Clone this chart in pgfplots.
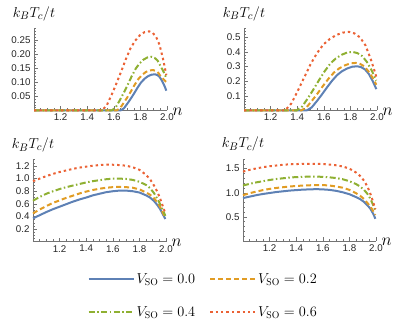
\documentclass[border=0pt]{standalone}
\usepackage{fontspec}
\setsansfont{Liberation Sans}
\usepackage{pgfplots}
\pgfplotsset{compat=1.18}

\definecolor{mblue}{HTML}{5E81B5}
\definecolor{morange}{HTML}{E19C24}
\definecolor{mgreen}{HTML}{8FB032}
\definecolor{mred}{HTML}{EB6235}

\pgfplotsset{
  mma/.style={
    scale only axis, width=133bp, height=82bp,
    anchor=south west,
    xmin=1, xmax=2, ymin=0,
    axis x line=bottom, axis y line=left,
    axis line style={-, black!55, line width=0.6bp},
    tick align=inside,
    major tick length=4bp, minor tick length=2.2bp,
    tick style={black!55, line width=0.5bp},
    xtick={1,1.2,1.4,1.6,1.8,2.0},
    xticklabels={,1.2,1.4,1.6,1.8,2.0},
    minor xtick={1.05,1.1,1.15,1.25,1.3,1.35,1.45,1.5,1.55,1.65,1.7,1.75,1.85,1.9,1.95},
    tick label style={font=\sffamily\fontsize{9.8}{10}\selectfont, text=black!85},
    clip=false,
    every axis y label/.style={at={(axis description cs:0,1)}, anchor=south, yshift=4bp, font=\fontsize{15}{16}\selectfont},
    every axis x label/.style={at={(axis description cs:1,0)}, anchor=west, xshift=2bp, yshift=-1bp, font=\fontsize{16}{16}\selectfont},
    ylabel={$k_BT_c/t$}, xlabel={$n$},
    legend image code/.code={\draw[##1] (0bp,0bp) -- (45bp,0bp);},
  },
  s0/.style={mblue, line width=2bp},
  s2/.style={morange, line width=2bp, dash pattern=on 5bp off 3bp},
  s4/.style={mgreen, line width=2bp, dash pattern=on 6bp off 2.5bp on 1.5bp off 2.5bp},
  s6/.style={mred, line width=2bp, dash pattern=on 2.4bp off 3bp},
}

\begin{document}
\begin{tikzpicture}
\useasboundingbox (0,0) rectangle (411bp,331bp);

% top left
\begin{axis}[mma, at={(34bp,220.5bp)}, ymax=0.29,
  ytick={0,0.05,0.1,0.15,0.2,0.25},
  yticklabels={,0.05,0.10,0.15,0.20,0.25},
  minor ytick={0.01,0.02,0.03,0.04,0.06,0.07,0.08,0.09,0.11,0.12,0.13,0.14,0.16,0.17,0.18,0.19,0.21,0.22,0.23,0.24,0.26,0.27,0.28,0.29}]
\addplot[s0] coordinates {(1,0) (1.65,0) (1.676,0.0077) (1.702,0.0243) (1.728,0.0422) (1.754,0.0614) (1.78,0.0819) (1.806,0.0998) (1.832,0.1126) (1.858,0.1216) (1.884,0.1267) (1.91,0.128) (1.927,0.1254) (1.944,0.119) (1.961,0.1062) (1.978,0.0901) (1.9865,0.0804) (1.995,0.07)};
\addplot[s2] coordinates {(1,0) (1.62,0) (1.6475,0.0086) (1.675,0.0272) (1.7025,0.0472) (1.73,0.0686) (1.7575,0.0915) (1.785,0.1115) (1.8125,0.1258) (1.84,0.1359) (1.8675,0.1416) (1.895,0.143) (1.915,0.1401) (1.935,0.133) (1.955,0.1187) (1.975,0.110) (1.985,0.105) (1.995,0.100)};
\addplot[s4] coordinates {(1,0) (1.585,0) (1.615,0.0114) (1.645,0.0361) (1.675,0.0627) (1.705,0.0912) (1.735,0.1216) (1.765,0.1482) (1.795,0.1672) (1.825,0.1805) (1.855,0.1881) (1.885,0.19) (1.907,0.1862) (1.929,0.1767) (1.951,0.1577) (1.973,0.1385) (1.984,0.1269) (1.995,0.115)};
\addplot[s6] coordinates {(1,0) (1.51,0) (1.5457,0.0168) (1.5814,0.0532) (1.6171,0.0924) (1.6528,0.1344) (1.6885,0.1792) (1.7242,0.2184) (1.7599,0.2464) (1.7956,0.266) (1.8313,0.2772) (1.867,0.28) (1.8926,0.2744) (1.9182,0.2604) (1.9438,0.2324) (1.9694,0.184) (1.9822,0.155) (1.995,0.125)};
\end{axis}

% top right
\begin{axis}[mma, at={(244bp,220.5bp)}, ymax=0.56,
  ytick={0,0.1,0.2,0.3,0.4,0.5},
  yticklabels={,0.1,0.2,0.3,0.4,0.5},
  minor ytick={0.02,0.04,0.06,0.08,0.12,0.14,0.16,0.18,0.22,0.24,0.26,0.28,0.32,0.34,0.36,0.38,0.42,0.44,0.46,0.48,0.52,0.54,0.56}]
\addplot[s0] coordinates {(1,0) (1.471,0) (1.5091,0.0211) (1.5472,0.0634) (1.5853,0.1087) (1.6234,0.157) (1.6615,0.2023) (1.6996,0.2416) (1.7377,0.2688) (1.7758,0.2869) (1.8139,0.299) (1.852,0.302) (1.8806,0.296) (1.9092,0.2809) (1.9378,0.2507) (1.9664,0.2035) (1.9807,0.1752) (1.995,0.146)};
\addplot[s2] coordinates {(1,0) (1.43,0) (1.4712,0.0228) (1.5124,0.0683) (1.5536,0.117) (1.5948,0.169) (1.636,0.2178) (1.6772,0.26) (1.7184,0.2893) (1.7596,0.3088) (1.8008,0.3218) (1.842,0.325) (1.8726,0.3185) (1.9032,0.3023) (1.9338,0.2698) (1.9644,0.2275) (1.9797,0.2018) (1.995,0.176)};
\addplot[s4] coordinates {(1,0) (1.396,0) (1.4381,0.028) (1.4802,0.084) (1.5223,0.144) (1.5644,0.208) (1.6065,0.268) (1.6486,0.32) (1.6907,0.356) (1.7328,0.38) (1.7749,0.396) (1.817,0.40) (1.8526,0.392) (1.8882,0.372) (1.9238,0.332) (1.9594,0.2744) (1.9772,0.2398) (1.995,0.205)};
\addplot[s6] coordinates {(1,0) (1.308,0) (1.3562,0.0483) (1.4044,0.1343) (1.4526,0.2255) (1.5008,0.3168) (1.549,0.392) (1.5972,0.4511) (1.6454,0.4887) (1.6936,0.5155) (1.7418,0.5316) (1.79,0.537) (1.831,0.5263) (1.872,0.4994) (1.913,0.4457) (1.954,0.3485) (1.9745,0.2903) (1.995,0.23)};
\end{axis}

% bottom left, with the legend
\begin{axis}[mma, at={(33bp,89.3bp)}, ymax=1.3,
  ytick={0,0.2,0.4,0.6,0.8,1.0,1.2},
  yticklabels={,0.2,0.4,0.6,0.8,1.0,1.2},
  minor ytick={0.05,0.1,0.15,0.25,0.3,0.35,0.45,0.5,0.55,0.65,0.7,0.75,0.85,0.9,0.95,1.05,1.1,1.15,1.25,1.3},
  legend columns=2, legend cell align=left,
  legend style={draw=none, fill=none, at={(1.28,-0.66)}, anchor=center,
    font=\fontsize{14}{15}\selectfont, row sep=18bp,
    /tikz/every even column/.append style={column sep=12bp}}]
\addplot[s0] coordinates {(1,0.37) (1.05,0.42) (1.1,0.47) (1.15,0.515) (1.2,0.555) (1.25,0.595) (1.3,0.635) (1.35,0.67) (1.4,0.70) (1.45,0.735) (1.5,0.76) (1.55,0.785) (1.6,0.80) (1.65,0.81) (1.7,0.81) (1.75,0.80) (1.8,0.78) (1.85,0.735) (1.88,0.70) (1.91,0.645) (1.935,0.58) (1.955,0.52) (1.97,0.46) (1.985,0.40) (1.995,0.36)};
\addlegendentry{$V_{\mathrm{SO}}=0.0$}
\addplot[s2] coordinates {(1,0.45) (1.05,0.51) (1.1,0.565) (1.15,0.615) (1.2,0.655) (1.25,0.695) (1.3,0.73) (1.35,0.765) (1.4,0.795) (1.45,0.82) (1.5,0.84) (1.55,0.855) (1.6,0.865) (1.65,0.87) (1.7,0.865) (1.75,0.855) (1.8,0.83) (1.85,0.78) (1.88,0.745) (1.91,0.69) (1.935,0.62) (1.955,0.555) (1.97,0.49) (1.985,0.42) (1.995,0.37)};
\addlegendentry{$V_{\mathrm{SO}}=0.2$}
\addplot[s4] coordinates {(1,0.65) (1.05,0.71) (1.1,0.76) (1.15,0.80) (1.2,0.835) (1.25,0.865) (1.3,0.89) (1.35,0.915) (1.4,0.94) (1.45,0.96) (1.5,0.975) (1.55,0.99) (1.6,1.0) (1.65,1.0) (1.7,0.995) (1.75,0.98) (1.8,0.95) (1.85,0.90) (1.88,0.85) (1.91,0.77) (1.935,0.68) (1.955,0.60) (1.97,0.53) (1.985,0.46) (1.995,0.41)};
\addlegendentry{$V_{\mathrm{SO}}=0.4$}
\addplot[s6] coordinates {(1,0.96) (1.05,1.0) (1.1,1.04) (1.15,1.075) (1.2,1.105) (1.25,1.13) (1.3,1.155) (1.35,1.175) (1.4,1.19) (1.45,1.205) (1.5,1.215) (1.55,1.22) (1.6,1.22) (1.65,1.215) (1.7,1.205) (1.75,1.18) (1.8,1.14) (1.85,1.06) (1.88,0.99) (1.91,0.89) (1.935,0.79) (1.955,0.69) (1.97,0.60) (1.985,0.51) (1.995,0.45)};
\addlegendentry{$V_{\mathrm{SO}}=0.6$}
\end{axis}

% bottom right
\begin{axis}[mma, at={(243bp,90bp)}, ymax=1.7,
  ytick={0,0.5,1.0,1.5},
  yticklabels={,0.5,1.0,1.5},
  minor ytick={0.1,0.2,0.3,0.4,0.6,0.7,0.8,0.9,1.1,1.2,1.3,1.4,1.6,1.7}]
\addplot[s0] coordinates {(1,0.89) (1.05,0.92) (1.1,0.95) (1.15,0.975) (1.2,0.995) (1.25,1.015) (1.3,1.03) (1.35,1.045) (1.4,1.055) (1.45,1.065) (1.5,1.07) (1.55,1.075) (1.6,1.07) (1.65,1.06) (1.7,1.04) (1.75,1.01) (1.8,0.97) (1.85,0.91) (1.88,0.87) (1.91,0.81) (1.935,0.74) (1.955,0.68) (1.97,0.61) (1.985,0.53) (1.995,0.46)};
\addplot[s2] coordinates {(1,0.95) (1.05,0.99) (1.1,1.025) (1.15,1.055) (1.2,1.08) (1.25,1.1) (1.3,1.115) (1.35,1.13) (1.4,1.14) (1.45,1.15) (1.5,1.155) (1.55,1.16) (1.6,1.16) (1.65,1.15) (1.7,1.13) (1.75,1.105) (1.8,1.06) (1.85,0.99) (1.88,0.94) (1.91,0.87) (1.935,0.79) (1.955,0.72) (1.97,0.66) (1.985,0.59) (1.995,0.54)};
\addplot[s4] coordinates {(1,1.15) (1.05,1.185) (1.1,1.215) (1.15,1.24) (1.2,1.265) (1.25,1.285) (1.3,1.3) (1.35,1.315) (1.4,1.325) (1.45,1.33) (1.5,1.335) (1.55,1.335) (1.6,1.33) (1.65,1.32) (1.7,1.305) (1.75,1.28) (1.8,1.24) (1.85,1.18) (1.88,1.13) (1.91,1.06) (1.935,0.98) (1.955,0.89) (1.97,0.80) (1.985,0.70) (1.995,0.63)};
\addplot[s6] coordinates {(1,1.44) (1.05,1.475) (1.1,1.505) (1.15,1.53) (1.2,1.55) (1.25,1.565) (1.3,1.58) (1.35,1.59) (1.4,1.595) (1.45,1.6) (1.5,1.6) (1.55,1.6) (1.6,1.595) (1.65,1.585) (1.7,1.57) (1.75,1.545) (1.8,1.5) (1.85,1.42) (1.88,1.35) (1.91,1.25) (1.935,1.13) (1.955,1.0) (1.97,0.88) (1.985,0.75) (1.995,0.66)};
\end{axis}
\end{tikzpicture}
\end{document}
